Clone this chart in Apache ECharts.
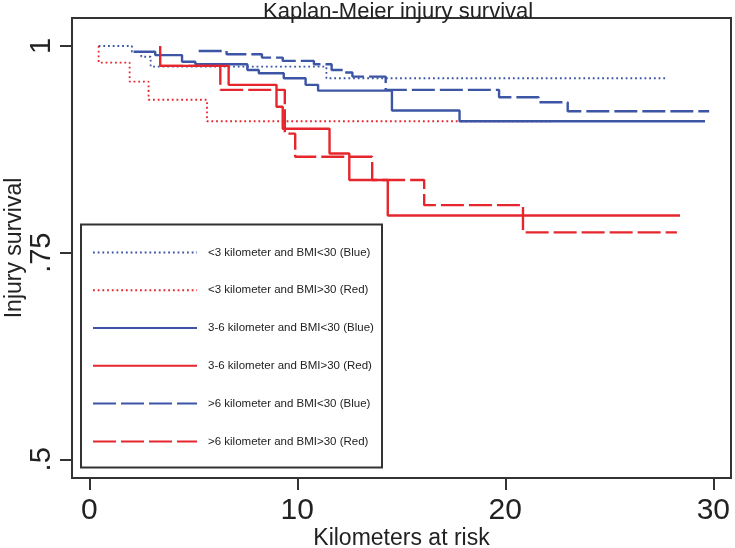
<!DOCTYPE html>
<html>
<head>
<meta charset="utf-8">
<script src="https://cdn.jsdelivr.net/npm/echarts@6/dist/echarts.min.js"></script>
<style>html,body{margin:0;padding:0;background:#fff}#c{width:735px;height:548px}</style>
</head>
<body>
<div id="c"></div>
<script>
// ---- data (km at risk, survival) ----
const xTicks = [0, 10, 20, 30];
const yTicks = [0.5, 0.75, 1];
const names = [
  '<3 kilometer and BMI<30 (Blue)',
  '<3 kilometer and BMI>30 (Red)',
  '3-6 kilometer and BMI<30 (Blue)',
  '3-6 kilometer and BMI>30 (Red)',
  '>6 kilometer and BMI<30 (Blue)',
  '>6 kilometer and BMI>30 (Red)'
];
const blueDotT = [0.45, 2.05, 2.5, 2.95, 11.4, 27.8];
const blueDotS = [1, 0.993, 0.987, 0.975, 0.961, 0.961];
const redDotT = [0.45, 0.45, 1.94, 2.85, 5.66, 22.2];
const redDotS = [1, 0.980, 0.957, 0.935, 0.909, 0.909];
const blueSolT = [2.13, 3.17, 4.46, 5.1, 7.6, 8.15, 9.35, 10.4, 11.0, 14.55, 17.8, 29.6];
const blueSolS = [0.993, 0.989, 0.981, 0.978, 0.971, 0.967, 0.961, 0.953, 0.946, 0.922, 0.909, 0.909];
const redSolT = [3.41, 3.41, 6.7, 9.0, 9.3, 11.55, 12.5, 14.35, 28.4];
const redSolS = [1, 0.976, 0.953, 0.9265, 0.900, 0.870, 0.838, 0.795, 0.795];
const blueDashT = [5.26, 6.6, 8.3, 9.3, 10.8, 11.65, 12.25, 12.65, 14.25, 19.7, 21.6, 23.0, 29.8];
const blueDashS = [0.994, 0.990, 0.986, 0.982, 0.978, 0.971, 0.968, 0.963, 0.947, 0.938, 0.932, 0.921, 0.921];
const redDashT = [3.41, 6.3, 9.4, 9.9, 13.6, 16.1, 20.85, 28.25];
const redDashS = [0.976, 0.947, 0.894, 0.866, 0.838, 0.8075, 0.7745, 0.7745];

// ---- styling ----
const BLUE = '#3c55a5', RED = '#e5262d';
const FONT = 'Liberation Sans, Arial, Helvetica, sans-serif';
const zip = (t, s) => t.map((v, i) => [v, s[i]]);
const dotted = [1.8, 2.9], dashed = [23, 5];
const styles = [
  {c: BLUE, w: 1.8, type: dotted, t: blueDotT, s: blueDotS},
  {c: RED, w: 1.8, type: dotted, t: redDotT, s: redDotS},
  {c: BLUE, w: 2.4, type: 'solid', t: blueSolT, s: blueSolS},
  {c: RED, w: 2.4, type: 'solid', t: redSolT, s: redSolS},
  {c: BLUE, w: 2.4, type: dashed, t: blueDashT, s: blueDashS},
  {c: RED, w: 2.4, type: dashed, t: redDashT, s: redDashS}
];

const chart = echarts.init(document.getElementById('c'), null, {renderer: 'canvas'});
chart.setOption({
  animation: false,
  backgroundColor: '#fff',
  textStyle: {fontFamily: FONT},
  title: {
    text: 'Kaplan-Meier injury survival',
    left: 263, top: 1, padding: 0,
    textStyle: {fontSize: 22, fontWeight: 'normal', color: '#222', fontFamily: FONT}
  },
  grid: {left: 72, right: 4, top: 18, bottom: 70, show: true, borderColor: '#333', borderWidth: 2,
    backgroundColor: 'transparent', outerBoundsMode: 'none', containLabel: false},
  xAxis: {
    type: 'value', min: -0.83, max: 30.85,
    name: 'Kilometers at risk', nameLocation: 'middle', nameGap: 49, nameMoveOverlap: false,
    nameTextStyle: {fontSize: 23, color: '#222', fontFamily: FONT},
    axisLine: {show: false, onZero: false},
    axisTick: {show: true, customValues: xTicks, length: 12, lineStyle: {color: '#333', width: 2}},
    axisLabel: {customValues: xTicks, fontSize: 30, color: '#222', margin: 18, fontFamily: FONT},
    splitLine: {show: false}
  },
  yAxis: {
    type: 'value', min: 0.4774, max: 1.0339,
    name: 'Injury survival', nameLocation: 'middle', nameGap: 46, nameMoveOverlap: false,
    nameTextStyle: {fontSize: 23, color: '#222', fontFamily: FONT},
    axisLine: {show: false, onZero: false},
    axisTick: {show: true, customValues: yTicks, length: 12, lineStyle: {color: '#333', width: 2}},
    axisLabel: {customValues: yTicks, rotate: 90, fontSize: 29, color: '#222', margin: 16, fontFamily: FONT,
      formatter: v => (v === 1 ? '1' : String(v).replace(/^0/, ''))},
    splitLine: {show: false}
  },
  legend: {
    orient: 'vertical', left: 92, top: 246.4, padding: 0,
    itemWidth: 104, itemHeight: 14, itemGap: 25.8,
    itemStyle: {opacity: 0},
    textStyle: {fontSize: 11.5, color: '#222', fontFamily: FONT, padding: [0, 0, 0, 6]},
    data: names
  },
  graphic: [{
    type: 'rect', shape: {x: 81, y: 224.5, width: 301, height: 243},
    style: {fill: 'none', stroke: '#333', lineWidth: 2}, z: 5
  }],
  series: styles.map((st, i) => ({
    name: names[i], type: 'line', step: 'end', symbol: 'none',
    data: zip(st.t, st.s),
    lineStyle: {color: st.c, width: st.w, type: st.type, cap: 'butt'},
    itemStyle: {color: st.c},
    z: 2
  }))
});
</script>
</body>
</html>
